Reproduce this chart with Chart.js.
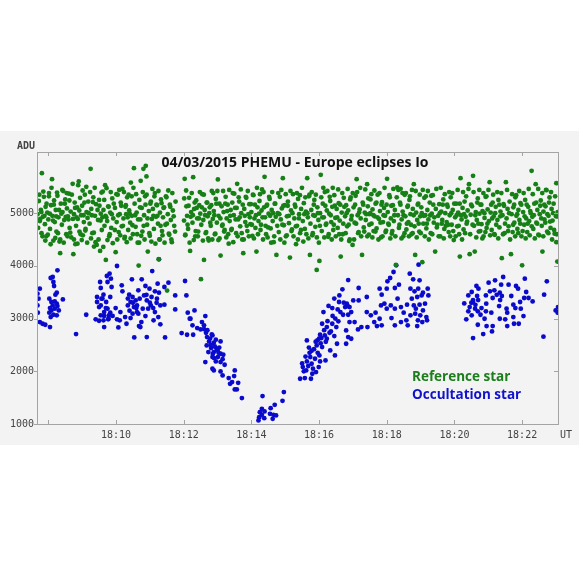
<!DOCTYPE html>
<html>
<head>
<meta charset="utf-8">
<script src="https://cdn.jsdelivr.net/npm/chart.js@4.4.1/dist/chart.umd.min.js"></script>
<style>
  html, body { margin: 0; padding: 0; background: #ffffff; }
  #wrap { width: 579px; height: 579px; position: relative; }
</style>
</head>
<body>
<div id="wrap"><canvas id="phemuChart"></canvas></div>
<script>
// x = minutes after 18:00 UT, y = ADU
const chartTitle = '04/03/2015 PHEMU - Europe eclipses Io';
const seriesNames = ['Reference star', 'Occultation star'];
const xTickMinutes = [8, 10, 12, 14, 16, 18, 20, 22];
const yTickValues = [1000, 2000, 3000, 4000, 5000];

// Reference star (green)
const refPoints = [
  [7.68,4980],[7.70,4720],[7.72,5230],[7.75,4850],[7.78,5060],[7.80,4620],[7.81,5759],[7.84,4930],[7.87,5310],[7.90,4790],[7.92,5120],[7.94,4560],
  [7.97,5010],[8.00,4880],[8.02,5380],[8.05,4700],[8.08,5150],[8.11,5645],[8.12,4950],[8.15,4480],[8.17,5240],[8.19,4830],
  [8.22,5060],[8.24,4650],[8.27,5330],[8.30,4920],[8.33,4461],[8.35,4240],[8.37,5180],[8.40,4780],[8.42,5020],[8.44,5420],
  [8.47,4870],[8.50,5260],[8.53,4600],[8.55,5090],[8.58,4940],[8.61,5370],[8.63,4720],[8.66,5030],[8.68,4540],
  [8.72,5556],[8.74,4221],[8.76,4980],[8.78,5200],[8.80,4411],[8.82,4760],[8.85,5110],[8.87,4890],[8.90,5601],[8.92,4650],[8.94,5290],
  [8.97,4960],[9.00,5140],[9.02,4580],[9.05,4830],[9.08,5350],[9.10,4700],[9.13,5020],[9.16,4910],[9.18,5220],
  [9.22,4800],[9.25,5841],[9.27,5080],[9.30,4620],[9.33,5300],[9.35,4366],[9.38,4950],[9.41,5170],[9.43,4398],
  [9.47,4870],[9.50,5250],[9.53,4284],[9.55,4990],[9.58,4680],[9.61,5410],[9.63,5060],[9.66,4760],[9.69,4950],
  [9.70,4113],[9.72,5474],[9.74,4850],[9.77,5130],[9.80,4560],[9.83,5010],[9.86,4720],[9.89,5280],[9.92,4900],
  [9.97,5100],[9.99,4259],[10.02,4830],[10.05,5350],[10.08,4640],[10.11,4980],[10.14,5200],[10.17,4750],[10.19,5460],
  [10.22,4900],[10.25,4520],[10.28,5120],[10.30,4980],[10.33,5300],[10.36,4680],[10.39,5050],[10.42,4820],[10.44,5580],
  [10.47,4950],[10.50,4600],[10.53,5854],[10.55,5180],[10.58,4740],[10.61,5010],[10.64,4440],[10.67,4005],[10.69,5250],
  [10.72,4880],[10.73,5613],[10.76,5100],[10.78,4650],[10.81,5841],[10.83,4960],[10.86,5320],[10.88,5898],[10.90,5696],[10.92,4780],[10.94,4271],
  [10.97,5040],[11.00,4570],[11.03,5220],[11.06,4890],[11.09,5080],[11.12,4700],[11.15,5380],[11.18,4930],
  [11.21,5150],[11.24,4800],[11.26,4126],[11.28,4500],[11.30,5010],[11.33,5260],[11.36,4660],[11.39,4920],[11.42,5110],
  [11.46,4780],[11.49,5300],[11.51,3531],[11.53,4980],[11.56,4610],[11.59,5160],[11.62,4870],[11.65,4450],[11.68,5050],[11.72,4760],[11.76,5220],
  [12.01,4860],[12.03,5651],[12.05,4590],[12.08,5130],[12.10,4950],[12.13,4700],[12.16,5290],[12.19,4284],[12.22,5020],
  [12.26,4820],[12.28,5683],[12.31,5080],[12.34,4560],[12.37,5240],[12.40,4900],[12.43,4650],[12.46,5150],[12.49,4990],
  [12.51,3747],[12.52,4780],[12.55,5360],[12.58,4870],[12.60,4113],[12.62,5060],[12.65,4620],[12.68,5200],[12.71,4940],[12.74,4480],
  [12.77,5110],[12.80,4760],[12.83,5420],[12.86,4890],[12.89,5040],[12.92,4600],[12.95,5270],[12.98,4820],
  [13.01,5639],[13.03,4950],[13.06,4520],[13.09,4196],[13.12,5130],[13.15,4780],[13.18,5020],[13.21,4680],[13.24,5310],
  [13.27,4900],[13.30,5160],[13.33,4420],[13.36,4850],[13.39,5060],[13.42,4700],[13.45,5380],[13.48,4960],
  [13.52,5100],[13.55,4620],[13.58,5556],[13.61,4880],[13.64,5220],[13.67,4750],[13.70,5000],[13.73,4500],
  [13.76,4240],[13.79,5080],[13.82,4830],[13.85,5290],[13.88,4660],[13.91,4980],[13.94,5170],[13.97,4790],
  [14.00,5020],[14.03,4570],[14.06,5340],[14.09,4900],[14.12,4720],[14.15,4271],[14.18,5110],[14.21,4850],[14.24,5230],
  [14.27,4680],[14.30,5050],[14.33,4920],[14.36,5400],[14.39,5689],[14.42,4760],[14.45,5140],[14.48,4540],
  [14.51,4990],[14.54,5270],[14.57,4710],[14.60,5060],[14.63,4850],[14.66,4450],[14.69,5180],[14.72,4930],[14.74,4208],
  [14.78,5000],[14.81,4640],[14.84,5310],[14.87,4880],[14.90,5090],[14.93,5664],[14.96,4770],[14.99,5150],
  [15.02,4560],[15.05,4940],[15.08,5220],[15.11,4810],[15.14,4158],[15.17,5050],[15.20,4690],[15.23,5360],
  [15.27,4900],[15.30,5120],[15.32,4411],[15.35,4760],[15.38,5270],[15.41,4980],[15.44,4620],[15.47,5080],
  [15.52,4850],[15.55,5190],[15.58,4700],[15.61,5030],[15.65,5664],[15.67,4920],[15.70,5320],[15.73,4208],
  [15.77,5060],[15.80,4580],[15.83,4960],[15.86,5250],[15.89,4740],[15.93,3923],[15.95,5110],[15.98,4870],
  [16.01,4094],[16.03,5000],[16.05,5727],[16.08,4660],[16.11,5180],[16.14,4920],[16.17,5400],[16.20,4780],[16.23,5050],
  [16.27,4550],[16.30,4990],[16.33,5230],[16.36,4830],[16.39,5120],[16.42,4680],[16.45,5340],[16.48,4910],
  [16.52,5080],[16.55,4720],[16.58,5190],[16.61,4860],[16.64,4176],[16.67,5010],[16.70,4600],[16.73,5290],
  [16.77,4940],[16.80,5150],[16.83,4750],[16.86,5050],[16.89,4470],[16.92,5260],[16.95,4880],[16.99,4398],
  [17.02,5110],[17.05,4820],[17.08,5330],[17.11,5645],[17.14,4960],[17.17,4640],[17.20,5070],[17.23,4900],[17.27,4208],
  [17.29,5200],[17.32,4730],[17.35,5010],[17.38,4870],[17.42,5550],[17.44,5130],[17.47,4590],[17.49,4980],
  [17.52,5260],[17.55,4800],[17.58,5070],[17.61,4660],[17.64,4940],[17.67,5180],[17.70,4710],[17.73,5350],
  [17.77,4890],[17.80,5040],[17.83,4540],[17.86,5210],[17.89,4830],[17.92,5100],[17.95,4950],[17.98,4670],
  [18.01,5651],[18.03,5020],[18.06,4780],[18.09,5300],[18.12,4900],[18.15,4610],[18.18,5150],[18.21,4850],[18.24,5060],
  [18.27,4019],[18.31,5487],[18.33,4960],[18.36,4720],[18.39,5200],[18.41,5461],[18.44,4880],[18.47,5030],[18.49,4560],
  [18.53,5347],[18.55,4940],[18.58,4690],[18.61,5120],[18.64,4830],[18.67,5250],[18.70,4980],[18.73,4600],
  [18.77,5080],[18.80,5550],[18.82,4750],[18.84,4208],[18.87,5010],[18.90,4870],[18.93,5180],[18.96,4650],[18.99,4940],
  [19.02,5110],[19.05,4070],[19.08,4800],[19.11,5290],[19.14,4960],[19.17,4710],[19.20,5060],[19.23,4880],
  [19.27,5200],[19.30,4620],[19.33,4990],[19.36,5340],[19.39,4820],[19.43,4271],[19.45,5080],[19.48,4730],
  [19.52,4950],[19.55,5170],[19.58,4560],[19.61,5030],[19.64,4870],[19.67,5260],[19.70,4700],[19.73,5000],
  [19.77,4830],[19.80,5120],[19.83,4640],[19.86,4960],[19.89,5300],[19.92,4780],[19.95,5060],[19.98,4490],
  [20.02,4920],[20.05,5180],[20.08,4750],[20.11,5010],[20.14,4600],[20.16,4176],[20.18,5664],[20.21,4880],[20.24,5100],
  [20.27,4690],[20.30,5220],[20.33,4930],[20.36,4800],[20.39,5050],[20.43,5550],[20.45,4221],[20.48,4970],
  [20.52,5130],[20.55,5708],[20.58,4760],[20.60,4271],[20.63,5020],[20.66,4870],[20.69,5280],[20.72,4650],[20.74,4990],
  [20.77,5160],[20.80,4790],[20.83,5040],[20.86,4560],[20.89,4910],[20.92,5310],[20.95,4720],[20.98,5070],
  [21.02,4850],[21.04,5588],[21.07,5010],[21.10,4680],[21.13,5200],[21.16,4940],[21.19,4590],[21.22,5120],
  [21.27,4870],[21.30,5250],[21.33,4730],[21.36,5030],[21.40,4145],[21.42,4960],[21.45,5170],[21.48,4620],
  [21.52,5588],[21.54,4900],[21.57,5080],[21.60,4750],[21.63,5220],[21.67,4221],[21.69,4980],[21.72,4640],[21.74,5110],
  [21.77,4820],[21.80,5300],[21.83,4950],[21.86,4700],[21.89,5060],[21.92,4870],[21.95,5190],[21.98,4560],[22.00,4010],
  [22.03,5020],[22.06,4780],[22.09,5250],[22.12,4900],[22.15,4640],[22.18,5120],[22.21,4850],[22.24,5040],
  [22.28,5803],[22.30,4930],[22.33,4700],[22.36,5180],[22.40,5550],[22.42,4820],[22.45,5060],[22.48,4590],
  [22.52,4980],[22.55,5240],[22.58,4760],[22.60,4271],[22.63,5030],[22.66,4880],[22.69,5130],[22.72,5436],[22.74,4650],
  [22.78,4950],[22.81,5297],[22.84,4720],[22.87,5080],[22.90,4860],[22.93,5180],[22.96,4610],[23.00,4940],[23.01,4449],[23.01,5569],[23.04,4082],[23.05,5020],
  // denser body of the band
  [7.735,5350],[7.762,4890],[7.795,5020],[7.828,4560],[7.853,5410],[7.886,4950],[7.912,4480],[7.948,5180],
  [7.985,4590],[8.018,5320],[8.043,4990],[8.068,4410],[8.095,5480],[8.138,4860],[8.163,5160],[8.206,4530],
  [8.232,4940],[8.258,5390],[8.285,4620],[8.318,5060],[8.352,4500],[8.386,4990],[8.413,5440],[8.455,4440],
  [8.488,5180],[8.516,4930],[8.542,5380],[8.567,4560],[8.596,4880],[8.622,5240],[8.648,4630],[8.695,5350],
  [8.728,4890],[8.757,4500],[8.792,5100],[8.835,4920],[8.862,4420],[8.883,5530],[8.915,5050],[8.955,4600],
  [8.988,4490],[9.015,5430],[9.042,4960],[9.068,5200],[9.095,4670],[9.122,5500],[9.148,4440],[9.195,5000],
  [9.235,5400],[9.262,4520],[9.288,4960],[9.315,5210],[9.345,4630],[9.372,5480],[9.395,4450],[9.455,5060],
  [9.485,4500],[9.512,5140],[9.545,4860],[9.572,5390],[9.598,4920],[9.625,4360],[9.652,5250],[9.678,5530],
  [9.715,4920],[9.748,4490],[9.782,5120],[9.815,4600],[9.845,5400],[9.875,4980],[9.905,4430],[9.935,5180],
  [9.965,4680],[10.012,5360],[10.038,4500],[10.065,4960],[10.095,5440],[10.125,4580],[10.155,5140],[10.205,4760],
  [10.235,5400],[10.262,4550],[10.292,5150],[10.318,4450],[10.345,4920],[10.372,5350],[10.405,4990],[10.432,4520],
  [10.462,5320],[10.488,4770],[10.515,5480],[10.565,4960],[10.595,5360],[10.625,4600],[10.655,4880],[10.685,4440],
  [10.712,5110],[10.745,4570],[10.792,5400],[10.818,4760],[10.845,4500],[10.872,5160],[10.905,5350],[10.932,4900],
  [10.985,4620],[11.015,5180],[11.045,4460],[11.075,5460],[11.105,4950],[11.135,5320],[11.165,4420],[11.195,5160],
  [11.225,4950],[11.255,5420],[11.295,4500],[11.318,4760],[11.345,5190],[11.375,4580],[11.405,5100],[11.435,4440],
  [11.475,5320],[11.505,4800],[11.545,5430],[11.575,4590],[11.605,5120],[11.635,4500],[11.665,5380],[11.705,4940],[11.745,4650],
  [12.015,5280],[12.045,4580],[12.072,5430],[12.115,4780],[12.145,5140],[12.175,4440],[12.205,4930],[12.238,5380],
  [12.272,4960],[12.298,4490],[12.325,5200],[12.355,4660],[12.385,5100],[12.418,4560],[12.452,4900],[12.478,5400],
  [12.535,5110],[12.568,4480],[12.595,5350],[12.635,4960],[12.665,4640],[12.695,5200],[12.725,4520],[12.755,5000],
  [12.785,4820],[12.815,5150],[12.845,4500],[12.875,5380],[12.905,4960],[12.935,4610],[12.965,5180],[12.995,5420],
  [13.025,4490],[13.055,5180],[13.085,4900],[13.135,4760],[13.165,5420],[13.195,4650],[13.228,5180],[13.258,4540],
  [13.285,5040],[13.315,4600],[13.345,5440],[13.375,4950],[13.405,4680],[13.435,5200],[13.465,4450],[13.495,5370],
  [13.535,4880],[13.565,5100],[13.595,4560],[13.625,5300],[13.655,4920],[13.688,5450],[13.715,4620],[13.745,5160],
  [13.775,4500],[13.805,4950],[13.835,5310],[13.865,4760],[13.895,5420],[13.925,4560],[13.955,4920],[13.985,5170],
  [14.015,4780],[14.045,5350],[14.075,4520],[14.105,5160],[14.135,4960],[14.165,5480],[14.195,4600],[14.228,4990],
  [14.255,5360],[14.285,4780],[14.315,5450],[14.345,4500],[14.375,5110],[14.405,4920],[14.435,4600],[14.465,5160],
  [14.495,4730],[14.525,5310],[14.555,4950],[14.585,4440],[14.615,5400],[14.645,5000],[14.675,4560],[14.705,5180],
  [14.765,4760],[14.795,5380],[14.825,4980],[14.855,4500],[14.885,5440],[14.915,4780],[14.945,5140],[14.975,4440],
  [15.015,5360],[15.045,4580],[15.075,5140],[15.105,4950],[15.155,5420],[15.185,4660],[15.215,5000],[15.245,4560],
  [15.285,5160],[15.315,4750],[15.345,5380],[15.375,4500],[15.405,4900],[15.435,5340],[15.465,4680],[15.495,5480],
  [15.535,4460],[15.565,4980],[15.595,5300],[15.625,4600],[15.655,5000],[15.685,4520],[15.715,5350],[15.745,4800],
  [15.785,5400],[15.815,4620],[15.845,5160],[15.875,4950],[15.905,5350],[15.935,4540],[15.965,5000],[15.995,4440],
  [16.025,4760],[16.065,5300],[16.095,4920],[16.125,5480],[16.155,4540],[16.185,5140],[16.215,4800],[16.245,5420],
  [16.285,4600],[16.315,5310],[16.345,4960],[16.375,4500],[16.405,5480],[16.435,4780],[16.465,5140],[16.495,4560],
  [16.535,4920],[16.565,5450],[16.595,4600],[16.625,5160],[16.655,4500],[16.685,5380],[16.715,4800],[16.745,5120],
  [16.785,4620],[16.815,5000],[16.845,5460],[16.875,4780],[16.905,4500],[16.935,5300],[16.965,4950],[16.995,5380],
  [17.035,4500],[17.065,5160],[17.095,4800],[17.125,5400],[17.155,4620],[17.185,5010],[17.215,5480],[17.245,4560],
  [17.305,5160],[17.335,4650],[17.365,5450],[17.395,4980],[17.425,4560],[17.455,5280],[17.485,4780],[17.515,5000],
  [17.545,5360],[17.575,4540],[17.605,4960],[17.635,5430],[17.665,4650],[17.695,5200],[17.725,4920],[17.755,4500],
  [17.785,5380],[17.815,4820],[17.845,5160],[17.875,4560],[17.905,4960],[17.935,5480],[17.965,4640],[17.995,5160],
  [18.045,4800],[18.075,5340],[18.105,4520],[18.135,5140],[18.165,4660],[18.195,5460],[18.225,4960],[18.255,4560],
  [18.295,5300],[18.345,5440],[18.375,4780],[18.405,5160],[18.435,4520],[18.465,5380],[18.495,4960],[18.525,4620],
  [18.565,5380],[18.595,4800],[18.625,5140],[18.655,4560],[18.685,5320],[18.715,4780],[18.745,5440],[18.765,4620],
  [18.795,4960],[18.855,5420],[18.885,4540],[18.915,5160],[18.945,4800],[18.975,5350],[19.005,4620],[19.035,5000],
  [19.065,5440],[19.095,4950],[19.125,4560],[19.155,5320],[19.185,4800],[19.215,5420],[19.245,4500],[19.285,4960],
  [19.315,5330],[19.345,4600],[19.375,5160],[19.405,4920],[19.465,5460],[19.495,4780],[19.535,4560],[19.565,5000],
  [19.595,5480],[19.625,4800],[19.655,5160],[19.685,4520],[19.715,5360],[19.745,4760],[19.785,5160],[19.815,4780],
  [19.845,5400],[19.875,4560],[19.905,5000],[19.935,5380],[19.965,4660],[19.995,5180],[20.035,4560],[20.065,4960],
  [20.095,5440],[20.125,4760],[20.155,5180],[20.195,4960],[20.225,4500],[20.255,5400],[20.285,4980],[20.315,4620],
  [20.345,5320],[20.375,4840],[20.415,5460],[20.465,4600],[20.495,5160],[20.535,4780],[20.565,5400],[20.615,4960],
  [20.645,4540],[20.675,5200],[20.705,4800],[20.735,5440],[20.765,4660],[20.795,5160],[20.825,4520],[20.855,5380],
  [20.885,5000],[20.915,4640],[20.945,5320],[20.975,4800],[21.005,5440],[21.055,4580],[21.085,5160],[21.115,4900],
  [21.145,5350],[21.175,4600],[21.205,5000],[21.235,4780],[21.265,5400],[21.295,4520],[21.325,5160],[21.355,4940],
  [21.385,5380],[21.435,4600],[21.465,5140],[21.495,4800],[21.555,5440],[21.585,4660],[21.615,5000],[21.645,4500],
  [21.705,5360],[21.735,4780],[21.765,5160],[21.795,4560],[21.825,5340],[21.855,4980],[21.885,4620],[21.915,5420],
  [21.945,4800],[21.975,5160],[22.015,4660],[22.045,5380],[22.075,4940],[22.105,4520],[22.135,5160],[22.165,4800],
  [22.195,5460],[22.225,4580],[22.255,5000],[22.285,4750],[22.315,5360],[22.345,4960],[22.375,4520],[22.415,5200],
  [22.445,4800],[22.475,5460],[22.505,4580],[22.535,5140],[22.565,4900],[22.595,5380],[22.625,4560],[22.655,5160],
  [22.685,4820],[22.705,5440],[22.745,4980],[22.775,4620],[22.795,5200],[22.825,4840],[22.855,5400],[22.885,4500],
  [22.915,5000],[22.945,4680],[22.975,5320],[23.020,4600],[23.045,4940]
];

// Occultation star (blue)
const occPoints = [
  [8.27,3915],[8.13,3789],[8.07,3770],[8.15,3694],[8.17,3618],[7.75,3567],[7.68,3472],[8.25,3491],[8.21,3453],[8.03,3377],
  [8.43,3364],[7.71,3377],[8.19,3326],[8.09,3314],[8.25,3282],[7.68,3250],[8.13,3250],[8.27,3238],[8.05,3200],[8.19,3187],
  [8.09,3155],[8.31,3155],[7.69,3111],[8.03,3111],[8.15,3073],[8.25,3061],[8.07,3029],[7.75,2934],[7.83,2902],[7.91,2883],
  [8.05,2839],[8.82,2706],[9.12,3073],
  [9.81,3852],[10.03,3997],[9.73,3808],[9.85,3757],[9.53,3694],[9.75,3694],[9.87,3599],[9.55,3580],[10.17,3630],[10.47,3744],
  [10.19,3516],[9.63,3453],[9.44,3409],[9.83,3409],[9.57,3377],[10.39,3453],[10.49,3409],[9.44,3314],[9.71,3314],[10.43,3314],
  [10.58,3345],[9.50,3219],[9.75,3187],[9.99,3200],[10.35,3250],[10.53,3219],[9.65,3124],[9.83,3111],[10.13,3124],[10.49,3092],
  [10.62,3124],[9.55,3061],[9.79,3061],[10.27,3029],[9.40,2985],[9.50,2959],[9.63,2966],[9.77,2985],[10.03,2985],[10.11,2966],
  [10.43,3010],[10.31,2902],[9.65,2839],[10.07,2833],[10.68,2858],[10.54,2643],
  [9.55,3250],[9.65,3050],[9.70,3200],[9.60,3380],[10.40,3150],[10.50,3300],[10.60,3200],[10.35,3380],[11.00,3300],[10.90,3450],
  [11.10,3200],[11.20,3300],[9.78,3000],[9.90,3050],
  [11.27,4124],[11.07,3902],[10.76,3744],[12.04,3713],[11.23,3662],[11.55,3681],[10.87,3618],[10.99,3567],[11.43,3599],[11.15,3516],
  [11.27,3491],[11.75,3440],[12.08,3440],[10.66,3535],[10.83,3440],[11.05,3409],[10.70,3377],[10.91,3345],[11.21,3377],[11.43,3263],
  [10.62,3250],[11.03,3250],[11.31,3250],[10.79,3187],[10.95,3187],[11.75,3174],[11.15,3124],[10.66,3092],[12.12,3111],[12.32,3155],
  [10.87,3048],[11.25,3029],[12.20,2997],[12.64,3048],[11.11,2966],[10.75,2934],[11.31,2890],[10.72,2839],[12.26,2871],[12.54,2934],
  [12.60,2871],[12.40,2820],[12.50,2795],[11.94,2725],[12.10,2693],[12.28,2693],[10.91,2649],[11.45,2643],[12.66,2731],[12.69,2649],
  [12.85,2681],[12.75,2567],[12.68,2491],[12.89,2541],[13.09,2567],[12.81,2440],[12.97,2428],[12.73,2364],[12.89,2364],[13.09,2333],
  [12.85,2269],[13.01,2269],[13.17,2314],[12.95,2187],[13.09,2174],[13.21,2124],[12.64,2174],[12.85,2048],[12.89,2016],[13.09,1997],
  [13.51,2016],[13.15,1921],[13.33,1871],[13.49,1909],[13.43,1795],[13.61,1782],[13.37,1763],[13.51,1655],[13.57,1655],[13.72,1491],
  [12.80,2500],[12.92,2470],[13.00,2400],[12.86,2330],[13.03,2350],[12.78,2620],[12.95,2600],[13.05,2450],[12.90,2250],[13.15,2230],
  [12.70,2780],[12.60,2800],[12.83,2700],[12.18,2999],
  [14.33,1529],[14.96,1605],[14.92,1440],[14.69,1364],[14.57,1301],[14.31,1288],[14.25,1225],[14.39,1238],[14.55,1193],[14.65,1174],
  [14.23,1130],[14.38,1111],[14.31,1174],[14.63,1098],[14.73,1162],[14.21,1067],
  [15.44,1858],[15.58,1871],[15.76,1858],[15.52,2080],[15.64,2187],[15.78,2143],[15.62,2016],[15.80,1953],[15.91,1985],[15.99,2080],
  [15.74,2269],[15.88,2238],[16.01,2301],[15.78,2390],[15.93,2491],[16.09,2459],[16.19,2206],[16.03,2187],[15.64,2586],[15.95,2586],
  [16.07,2630],[16.23,2617],[16.33,2396],[16.47,2301],[16.03,2693],[16.17,2681],[16.31,2731],[16.45,2668],[16.53,2522],[16.09,2902],
  [16.23,2839],[16.35,2757],[16.39,2902],[16.51,2839],[16.57,2947],[16.13,3124],[16.39,3200],[16.55,3174],[16.63,3124],[16.71,3073],
  [16.59,3314],[16.73,3301],[16.85,3238],[16.77,3219],[16.86,3073],[16.69,3554],
  [15.55,2000],[15.68,2100],[15.60,2280],[15.72,2350],[15.85,2420],[15.90,2560],[15.50,2150],[15.82,2050],[15.96,2350],[16.05,2530],
  [16.15,2780],[16.25,2950],[15.70,2450],[16.00,2620],[16.20,2560],[16.40,3050],[16.28,3240],[16.48,3000],[16.60,3440],[16.45,3380],
  [16.86,3731],[17.17,3580],[16.82,3282],[16.90,3219],[16.95,3124],[16.90,2934],[16.80,2776],[16.86,2649],[16.80,2522],[16.95,2617],
  [17.01,3345],[17.17,3345],[17.41,3409],[17.05,2934],[17.15,2795],[17.25,2839],[17.43,2839],[17.41,3124],[17.53,3061],[17.63,2934],
  [17.71,2858],[17.67,3111],[17.79,2997],[17.85,2871],[17.79,3567],[17.85,3453],[18.00,3567],[17.83,3250],[17.93,3282],[18.00,3187],
  [18.12,3250],[18.02,3706],[18.10,3770],[18.20,3884],[18.28,4010],[18.36,3643],[18.24,3580],[18.32,3377],[18.24,3187],[18.42,3219],
  [18.50,3111],[18.60,3263],[18.14,3010],[18.24,2871],[18.42,2934],[18.58,2966],[18.62,2871],[18.68,3852],[18.78,3744],[18.97,3725],
  [18.70,3567],[18.82,3516],[18.93,3567],[19.07,3491],[19.21,3567],[18.74,3377],[18.90,3409],[19.03,3440],[19.23,3440],[18.80,3250],
  [18.97,3263],[19.13,3282],[18.86,3187],[19.07,3155],[18.70,3061],[18.84,3092],[18.99,3061],[19.17,3029],[18.92,2966],[19.05,2934],
  [18.90,2858],[19.19,2966],[18.94,4023],
  [21.44,3789],[21.20,3725],[21.01,3681],[22.08,3757],[22.73,3706],[21.38,3643],[21.60,3643],[20.65,3618],[21.82,3618],[21.88,3567],
  [20.71,3567],[21.05,3516],[21.18,3535],[20.51,3504],[21.34,3491],[22.12,3504],[20.41,3440],[20.67,3428],[20.93,3440],[21.13,3390],
  [21.40,3428],[21.68,3428],[22.06,3390],[22.19,3390],[22.31,3326],[22.65,3453],[20.29,3288],[20.55,3314],[20.94,3282],[21.32,3238],
  [21.74,3263],[21.94,3314],[20.45,3219],[20.61,3187],[21.54,3187],[21.80,3200],[20.41,3137],[20.69,3137],[20.93,3137],[21.09,3111],
  [21.56,3111],[21.96,3187],[20.51,3061],[20.77,3073],[20.89,2997],[21.34,2997],[21.50,2985],[21.74,3029],[22.04,3048],[20.35,2985],
  [20.69,2883],[20.95,2858],[21.13,2858],[21.56,2858],[21.76,2902],[21.90,2902],[21.11,2757],[20.85,2706],[20.55,2630],[22.63,2656],
  [20.55,3350],[20.62,3260],[20.70,3350],[20.50,3300],[21.25,3450],[21.35,3350],[20.80,3200],
  [22.99,3155],[23.05,3111],[23.06,3219]
];

function toXY(pairs) {
  return pairs.map(p => ({ x: p[0], y: p[1] }));
}

// grey panel, frame, inward ticks and the texts drawn inside the plot
const decorPlugin = {
  id: 'decor',
  beforeDraw(chart) {
    const ctx = chart.ctx;
    ctx.save();
    ctx.fillStyle = '#f3f3f3';
    ctx.fillRect(0, 131, chart.width, 314);
    ctx.restore();
  },
  afterDraw(chart) {
    const ctx = chart.ctx;
    const a = chart.chartArea;
    const xs = chart.scales.x;
    const ys = chart.scales.y;
    ctx.save();
    ctx.strokeStyle = '#a4a4a4';
    ctx.lineWidth = 1;
    ctx.strokeRect(Math.round(a.left) + 0.5, Math.round(a.top) + 0.5,
      Math.round(a.right - a.left), Math.round(a.bottom - a.top));
    ctx.beginPath();
    xTickMinutes.forEach(m => {
      const px = Math.round(xs.getPixelForValue(m)) + 0.5;
      ctx.moveTo(px, a.bottom); ctx.lineTo(px, a.bottom - 4);
      ctx.moveTo(px, a.top); ctx.lineTo(px, a.top + 4);
    });
    yTickValues.forEach(v => {
      const py = Math.round(ys.getPixelForValue(v)) + 0.5;
      ctx.moveTo(a.left, py); ctx.lineTo(a.left - 3, py);
      ctx.moveTo(a.right, py); ctx.lineTo(a.right - 4, py);
    });
    ctx.stroke();

    ctx.textBaseline = 'middle';
    ctx.fillStyle = '#444444';
    ctx.font = 'bold 10px "DejaVu Sans Mono"';
    ctx.textAlign = 'center';
    ctx.fillText('ADU', 26, 146);
    ctx.font = '10px "DejaVu Sans Mono"';
    ctx.fillText('UT', 566, 435);

    ctx.fillStyle = '#111111';
    ctx.font = 'bold 14px "Open Sans"';
    ctx.fillText(chartTitle, 295, 163);

    ctx.textAlign = 'left';
    ctx.font = 'bold 13.5px "Open Sans"';
    ctx.fillStyle = '#1b7d1b';
    ctx.fillText(seriesNames[0], 412, 377);
    ctx.fillStyle = '#1111cc';
    ctx.fillText(seriesNames[1], 412, 395);
    ctx.restore();
  }
};

const ctx = document.getElementById('phemuChart').getContext('2d');
const phemuChart = new Chart(ctx, {
  type: 'scatter',
  data: {
    datasets: [
      {
        label: seriesNames[0],
        data: toXY(refPoints),
        backgroundColor: '#168016',
        borderWidth: 0,
        pointRadius: 2.4
      },
      {
        label: seriesNames[1],
        data: toXY(occPoints),
        backgroundColor: '#0a0acc',
        borderWidth: 0,
        pointRadius: 2.4
      }
    ]
  },
  options: {
    responsive: true,
    maintainAspectRatio: false,
    animation: false,
    layout: {
      padding: { top: 152, right: 21, left: 0, bottom: 0 }
    },
    plugins: {
      legend: { display: false },
      tooltip: { enabled: false }
    },
    scales: {
      x: {
        type: 'linear',
        min: 7.666,
        max: 23.06,
        afterBuildTicks: scale => {
          scale.ticks = xTickMinutes.map(v => ({ value: v }));
        },
        afterFit: scale => { scale.height = 155; },
        grid: { drawOnChartArea: false, drawTicks: false },
        border: { display: false },
        ticks: {
          padding: 5,
          maxRotation: 0,
          color: '#444444',
          font: { family: 'DejaVu Sans Mono', size: 10 },
          callback: v => v === 8 ? '' : '18:' + String(v).padStart(2, '0')
        }
      },
      y: {
        type: 'linear',
        min: 1000,
        max: 6160,
        afterBuildTicks: scale => {
          scale.ticks = yTickValues.map(v => ({ value: v }));
        },
        afterFit: scale => { scale.width = 37; },
        grid: { drawOnChartArea: false, drawTicks: false },
        border: { display: false },
        ticks: {
          padding: 3,
          color: '#444444',
          font: { family: 'DejaVu Sans Mono', size: 10 },
          callback: v => String(v)
        }
      }
    }
  },
  plugins: [decorPlugin]
});
</script>
</body>
</html>
